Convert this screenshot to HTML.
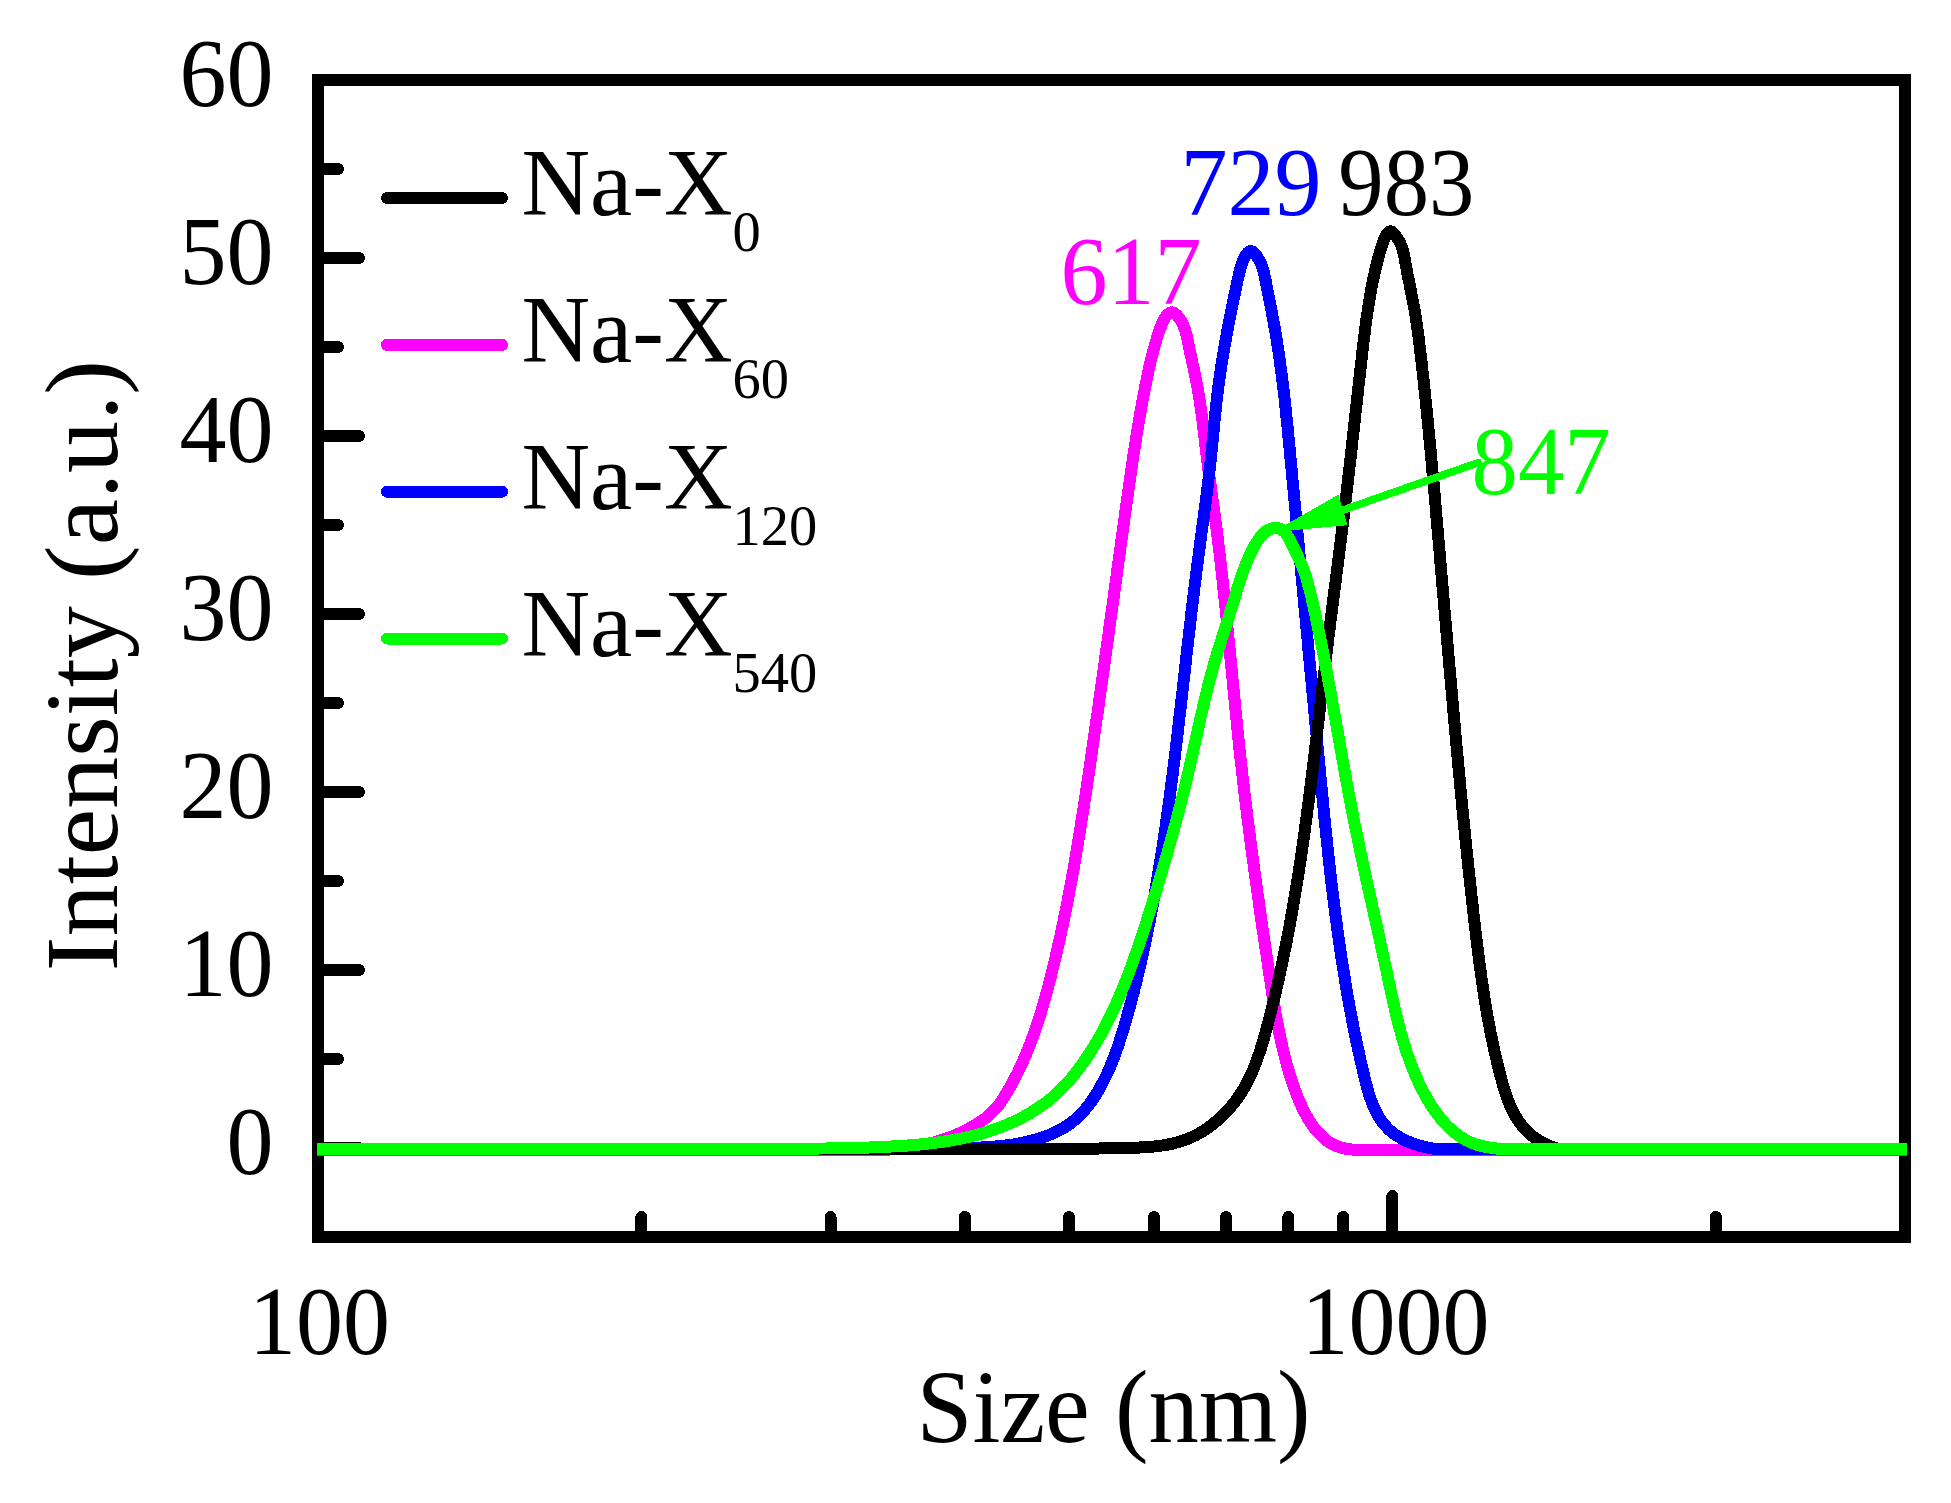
<!DOCTYPE html>
<html lang="en"><head><meta charset="utf-8"><title>Size distribution</title>
<style>html,body{margin:0;padding:0;background:#fff}svg{display:block}text{font-family:"Liberation Serif",serif;fill:#000}</style></head><body>
<svg width="1951" height="1503" viewBox="0 0 1951 1503" shape-rendering="crispEdges">
<rect width="1951" height="1503" fill="#fff"/>
<g stroke="#000" stroke-width="12" stroke-linecap="round" fill="none">
<path d="M318 1148.0h41"/>
<path d="M318 1059.0h20"/>
<path d="M318 970.0h41"/>
<path d="M318 881.0h20"/>
<path d="M318 792.0h41"/>
<path d="M318 703.0h20"/>
<path d="M318 614.0h41"/>
<path d="M318 525.0h20"/>
<path d="M318 436.0h41"/>
<path d="M318 347.0h20"/>
<path d="M318 258.0h41"/>
<path d="M318 169.0h20"/>
<path d="M641.4 1237v-20"/>
<path d="M830.6 1237v-20"/>
<path d="M964.8 1237v-20"/>
<path d="M1069.0 1237v-20"/>
<path d="M1154.0 1237v-20"/>
<path d="M1226.0 1237v-20"/>
<path d="M1288.3 1237v-20"/>
<path d="M1343.2 1237v-20"/>
<path d="M1392.4 1237v-41"/>
<path d="M1715.8 1237v-20"/>
</g>
<rect x="318" y="80" width="1587" height="1157" fill="none" stroke="#000" stroke-width="12" shape-rendering="crispEdges"/>
<g fill="none" stroke-width="12" stroke-linejoin="round" stroke-linecap="butt">
<path stroke="#ff00ff" d="M317 1150L859.9 1149.8L866.3 1150L872.6 1150L878.9 1150L885.2 1149.8L891.5 1149.4L897.7 1148.9L904 1148.2L910.1 1147.4L916.3 1146.4L922.4 1145.2L928.5 1143.8L934.5 1142.2L940.5 1140.5L946.4 1138.5L952.3 1136.3L958.1 1133.9L963.8 1131.2L969.4 1128.3L975 1125.2L980.3 1121.8L985.5 1118.1L990.3 1114.1L994.8 1109.7L998.8 1104.9L1002.4 1099.8L1005.7 1094.5L1008.9 1089.1L1012 1083.6L1014.9 1078.1L1017.7 1072.6L1020.4 1066.9L1023 1061.2L1025.5 1055.5L1027.8 1049.7L1030.1 1043.9L1032.3 1038.1L1034.5 1032.2L1036.5 1026.2L1038.4 1020.3L1040.3 1014.3L1042.2 1008.3L1043.9 1002.2L1045.6 996.2L1047.3 990.1L1048.9 984L1050.5 977.9L1052 971.8L1053.5 965.7L1055 959.6L1056.4 953.5L1057.8 947.3L1059.2 941.2L1060.6 935.1L1061.9 929L1063.2 922.8L1064.4 916.7L1065.7 910.5L1066.9 904.4L1068.1 898.2L1069.3 892.1L1070.4 885.9L1071.6 879.7L1072.7 873.6L1073.8 867.4L1074.9 861.2L1075.9 855L1077 848.9L1078 842.7L1079 836.5L1080 830.3L1081 824.1L1082 817.9L1083 811.7L1083.9 805.5L1084.9 799.3L1085.8 793.2L1086.7 787L1087.7 780.8L1088.6 774.6L1089.5 768.4L1090.4 762.1L1091.3 755.9L1092.2 749.7L1093.1 743.5L1094 737.3L1094.9 731.1L1095.8 724.9L1096.7 718.7L1097.6 712.5L1098.5 706.3L1099.3 700.1L1100.2 693.9L1101.1 687.6L1102 681.4L1102.8 675.2L1103.7 669L1104.6 662.8L1105.4 656.6L1106.3 650.4L1107.2 644.1L1108 637.9L1108.9 631.7L1109.7 625.5L1110.6 619.3L1111.4 613.1L1112.3 606.8L1113.2 600.6L1114 594.4L1114.9 588.2L1115.7 582L1116.6 575.8L1117.4 569.5L1118.3 563.3L1119.1 557.1L1120 550.9L1120.8 544.7L1121.7 538.5L1122.6 532.2L1123.4 526L1124.3 519.8L1125.1 513.6L1126 507.4L1126.9 501.2L1127.7 494.9L1128.6 488.7L1129.5 482.5L1130.4 476.3L1131.3 470.1L1132.2 463.9L1133.1 457.7L1134 451.5L1135 445.3L1136 439.1L1137 432.9L1138 426.7L1139 420.5L1140.1 414.4L1141.2 408.2L1142.3 402L1143.4 395.8L1144.6 389.7L1145.8 383.5L1147.1 377.4L1148.4 371.3L1149.7 365.1L1151.2 359L1152.7 353L1154.4 346.9L1156.1 340.9L1157.2 337.2L1157.5 336.3L1157.8 335.3L1158 334.9L1158.2 334.4L1158.5 333.4L1158.8 332.5L1159.1 331.5L1159.4 330.6L1159.8 329.6L1160 328.9L1160.1 328.7L1160.4 327.7L1160.8 326.8L1161.1 325.8L1161.5 324.9L1161.8 323.9L1162.2 323L1162.2 323L1162.6 322.1L1163 321.2L1163.5 320.3L1164 319.4L1164.5 318.5L1165.1 317.6L1165.2 317.4L1165.7 316.8L1166.4 316L1167.1 315.2L1167.9 314.4L1168.7 313.7L1169.5 313.2L1169.9 312.9L1170.3 312.7L1171.2 312.4L1172 312.4L1172.9 312.5L1173.7 312.8L1174.5 313.2L1175.1 313.7L1175.3 313.8L1176.1 314.5L1176.8 315.2L1177.5 316L1178.2 316.9L1178.8 317.7L1179.4 318.5L1179.5 318.6L1180 319.4L1180.6 320.2L1181.1 321.1L1181.6 322L1182.1 322.9L1182.6 323.8L1182.7 324.1L1183 324.7L1183.4 325.6L1183.8 326.5L1184.1 327.4L1184.5 328.4L1184.8 329.3L1185 329.9L1185.1 330.3L1185.4 331.2L1185.7 332.2L1186 333.1L1186.3 334.1L1186.5 335.1L1186.7 335.9L1186.7 336L1187 337L1188.1 342.1L1189.3 348.3L1190.6 354.4L1191.9 360.6L1193.3 366.7L1194.6 372.8L1195.8 378.9L1197 385.1L1198.2 391.2L1199.2 397.4L1200.1 403.6L1201 409.8L1201.9 416L1202.7 422.2L1203.4 428.5L1204.2 434.7L1204.9 441L1205.6 447.2L1206.4 453.4L1207.1 459.7L1207.9 465.9L1208.7 472.1L1209.6 478.3L1210.5 484.5L1211.3 490.7L1212.2 497L1213.1 503.2L1213.9 509.4L1214.8 515.6L1215.6 521.8L1216.4 528L1217.2 534.2L1218 540.5L1218.7 546.7L1219.5 552.9L1220.2 559.1L1220.9 565.4L1221.6 571.6L1222.3 577.8L1223 584.1L1223.6 590.3L1224.3 596.6L1225 602.8L1225.6 609L1226.2 615.3L1226.9 621.5L1227.5 627.8L1228.1 634L1228.7 640.3L1229.3 646.5L1229.9 652.8L1230.6 659L1231.2 665.2L1231.8 671.5L1232.4 677.7L1233 684L1233.6 690.2L1234.2 696.5L1234.8 702.7L1235.4 709L1236 715.2L1236.7 721.4L1237.3 727.7L1237.9 733.9L1238.6 740.2L1239.2 746.4L1239.9 752.6L1240.6 758.9L1241.3 765.1L1242 771.3L1242.7 777.6L1243.4 783.8L1244.1 790L1244.9 796.2L1245.6 802.4L1246.4 808.7L1247.1 814.9L1247.9 821.1L1248.7 827.3L1249.5 833.5L1250.3 839.7L1251.1 846L1251.9 852.2L1252.8 858.4L1253.6 864.6L1254.4 870.8L1255.3 877L1256.2 883.2L1257 889.4L1257.9 895.6L1258.8 901.8L1259.6 908.1L1260.5 914.3L1261.4 920.5L1262.3 926.7L1263.2 932.9L1264.1 939.1L1265.1 945.3L1266 951.5L1266.9 957.7L1267.8 964L1268.7 970.2L1269.7 976.4L1270.6 982.6L1271.6 988.8L1272.5 995L1273.5 1001.3L1274.6 1007.5L1275.6 1013.6L1276.7 1019.8L1277.9 1026L1279.1 1032.1L1280.4 1038.3L1281.8 1044.4L1283.2 1050.5L1284.7 1056.5L1286.3 1062.6L1288 1068.6L1289.8 1074.6L1291.7 1080.5L1293.7 1086.5L1295.9 1092.3L1298.1 1098.2L1300.6 1104L1303.2 1109.7L1306.1 1115.2L1309.2 1120.6L1312.7 1125.9L1316.6 1130.8L1321 1135.5L1325.7 1139.8L1330.9 1143.4L1336.5 1146.1L1342.4 1148L1348.6 1149.2L1354.9 1149.8L1361.3 1150L1367.7 1150L1373.9 1150L1380 1150L1907 1150.0"/>
<path stroke="#0000ff" d="M317 1149L940 1149L946.6 1148.8L953.2 1148.6L959.8 1148.4L966.5 1148.2L973.3 1147.9L980.1 1147.6L986.8 1147.2L993.6 1146.7L1000.4 1146.1L1007.1 1145.3L1013.8 1144.4L1020.5 1143.2L1027 1141.8L1033.5 1140.2L1039.9 1138.3L1046.2 1136.1L1052.4 1133.6L1058.4 1130.7L1064.2 1127.5L1069.7 1123.9L1075 1119.8L1079.9 1115.3L1084.5 1110.3L1088.8 1105L1092.8 1099.4L1096.5 1093.7L1099.9 1087.8L1103.1 1081.9L1106.1 1075.9L1108.9 1069.8L1111.5 1063.6L1114 1057.4L1116.3 1051.1L1118.5 1044.8L1120.5 1038.4L1122.5 1032L1124.5 1025.6L1126.3 1019.2L1128.1 1012.7L1129.9 1006.3L1131.7 999.8L1133.4 993.3L1135 986.8L1136.7 980.3L1138.2 973.8L1139.8 967.3L1141.3 960.7L1142.8 954.2L1144.2 947.6L1145.6 941L1147 934.5L1148.3 927.9L1149.7 921.3L1150.9 914.7L1152.2 908.1L1153.4 901.5L1154.6 894.9L1155.8 888.2L1156.9 881.6L1158 875L1159.1 868.4L1160.2 861.7L1161.3 855.1L1162.3 848.5L1163.3 841.8L1164.3 835.2L1165.3 828.5L1166.2 821.9L1167.2 815.2L1168.1 808.6L1169 801.9L1169.9 795.3L1170.8 788.6L1171.6 782L1172.5 775.3L1173.3 768.6L1174.2 762L1175 755.3L1175.8 748.6L1176.6 742L1177.4 735.3L1178.2 728.6L1178.9 722L1179.7 715.3L1180.5 708.6L1181.2 702L1182 695.3L1182.8 688.6L1183.5 682L1184.3 675.3L1185 668.6L1185.8 661.9L1186.5 655.3L1187.3 648.6L1188.1 641.9L1188.8 635.3L1189.6 628.6L1190.4 621.9L1191.1 615.3L1191.9 608.6L1192.7 601.9L1193.5 595.3L1194.3 588.6L1195.2 582L1196 575.3L1196.8 568.6L1197.7 562L1198.6 555.3L1199.5 548.7L1200.3 542L1201.2 535.4L1202.1 528.7L1203 522.1L1203.9 515.4L1204.8 508.8L1205.7 502.1L1206.5 495.5L1207.3 488.8L1208.2 482.1L1208.9 475.5L1209.7 468.8L1210.5 462.1L1211.2 455.5L1211.8 448.8L1212.5 442.1L1213.2 435.4L1213.8 428.7L1214.4 422L1215.1 415.3L1215.8 408.7L1216.5 402L1217.3 395.3L1218.1 388.6L1219 382L1219.9 375.3L1220.9 368.7L1221.9 362.1L1223 355.4L1224.1 348.8L1225.3 342.2L1226.5 335.6L1227.7 329L1229 322.4L1230.3 315.8L1231.6 309.2L1232.9 302.7L1234.3 296.1L1235.7 289.5L1237 282.9L1238.3 277.2L1238.5 276.3L1238.5 276.2L1238.7 275.2L1239 274.2L1239.2 273.3L1239.4 272.3L1239.7 271.3L1239.9 270.4L1240 269.8L1240.2 269.4L1240.4 268.5L1240.7 267.5L1240.9 266.5L1241.2 265.6L1241.5 264.7L1241.8 263.7L1241.8 263.5L1242.1 262.8L1242.4 261.8L1242.7 260.9L1243.1 260L1243.5 259.1L1244 258.1L1244.5 257.2L1244.5 257.2L1245 256.3L1245.6 255.4L1246.3 254.5L1247 253.6L1247.7 252.8L1248.5 252.1L1249.1 251.7L1249.3 251.6L1250.1 251.2L1251 251.1L1251.8 251.3L1252.6 251.6L1253.4 252.2L1254.2 252.9L1254.5 253.2L1254.9 253.7L1255.6 254.6L1256.3 255.5L1256.9 256.4L1257.5 257.3L1258.1 258.2L1258.6 259.1L1258.7 259.2L1259.1 260L1259.6 260.9L1260 261.7L1260.5 262.6L1260.9 263.5L1261.2 264.4L1261.5 265.1L1261.6 265.3L1261.9 266.2L1262.2 267.1L1262.5 268L1262.8 269L1263.1 269.9L1263.4 270.9L1263.5 271.4L1263.7 271.8L1263.9 272.8L1264.2 273.7L1264.4 274.7L1264.6 275.7L1264.8 276.7L1265.1 277.9L1266.4 284.6L1267.7 291.3L1269 297.9L1270.3 304.5L1271.6 311.1L1272.8 317.6L1274 324.2L1275.2 330.8L1276.3 337.4L1277.3 344L1278.4 350.6L1279.3 357.2L1280.2 363.8L1281.1 370.5L1282 377.1L1282.8 383.8L1283.6 390.4L1284.4 397.1L1285.1 403.8L1285.8 410.5L1286.5 417.1L1287.2 423.8L1287.9 430.5L1288.5 437.2L1289.2 443.9L1289.8 450.6L1290.4 457.3L1291.1 464L1291.7 470.7L1292.3 477.4L1292.9 484.1L1293.6 490.8L1294.2 497.5L1294.8 504.1L1295.5 510.8L1296.1 517.5L1296.7 524.2L1297.3 530.9L1298 537.6L1298.6 544.3L1299.2 551L1299.9 557.7L1300.5 564.4L1301.1 571.1L1301.7 577.8L1302.4 584.5L1303 591.1L1303.6 597.8L1304.2 604.5L1304.9 611.2L1305.5 617.9L1306.1 624.6L1306.7 631.3L1307.4 638L1308 644.7L1308.6 651.3L1309.2 658L1309.9 664.7L1310.5 671.4L1311.1 678.1L1311.8 684.8L1312.4 691.5L1313 698.1L1313.7 704.8L1314.3 711.5L1314.9 718.2L1315.5 724.9L1316.2 731.6L1316.8 738.2L1317.4 744.9L1318.1 751.6L1318.7 758.3L1319.4 765L1320 771.6L1320.6 778.3L1321.3 785L1321.9 791.7L1322.6 798.3L1323.2 805L1323.9 811.7L1324.5 818.4L1325.2 825L1325.9 831.7L1326.6 838.4L1327.3 845L1328 851.7L1328.7 858.4L1329.5 865L1330.2 871.7L1331 878.4L1331.7 885L1332.5 891.7L1333.3 898.3L1334.2 905L1335 911.7L1335.9 918.3L1336.8 925L1337.7 931.6L1338.6 938.3L1339.5 944.9L1340.5 951.6L1341.5 958.2L1342.5 964.8L1343.6 971.5L1344.7 978.1L1345.8 984.8L1346.9 991.4L1348 998L1349.2 1004.7L1350.5 1011.3L1351.7 1017.9L1353 1024.5L1354.3 1031.2L1355.7 1037.8L1357 1044.4L1358.5 1051L1359.9 1057.6L1361.4 1064.2L1363 1070.8L1364.5 1077.4L1366.2 1084L1367.9 1090.5L1369.9 1096.9L1372.1 1103.1L1374.7 1109.1L1377.6 1114.9L1381 1120.3L1384.9 1125.3L1389.3 1129.9L1394.5 1134.1L1400.2 1137.7L1406.4 1140.9L1413 1143.5L1419.8 1145.7L1426.8 1147.4L1433.8 1148.7L1440.8 1149L1447.5 1149L1453.9 1149L1459.8 1148.8L1907 1149.0"/>
<path stroke="#000000" d="M317 1149L1090 1149L1096.6 1148.6L1103.2 1148.3L1110 1148.1L1116.8 1148L1123.7 1147.9L1130.6 1147.8L1137.5 1147.6L1144.4 1147.3L1151.2 1146.8L1158 1146.1L1164.8 1145.1L1171.4 1143.9L1177.9 1142.2L1184.3 1140.2L1190.5 1137.7L1196.6 1134.8L1202.5 1131.5L1208.2 1127.7L1213.6 1123.6L1218.8 1119.2L1223.8 1114.5L1228.5 1109.5L1233 1104.3L1237.1 1098.8L1240.9 1093.2L1244.4 1087.4L1247.6 1081.5L1250.6 1075.5L1253.3 1069.3L1255.8 1063.1L1258.1 1056.7L1260.3 1050.3L1262.3 1043.8L1264.2 1037.3L1266 1030.7L1267.8 1024.1L1269.5 1017.5L1271.2 1010.9L1272.8 1004.3L1274.4 997.7L1276 991.1L1277.5 984.4L1279 977.8L1280.4 971.2L1281.9 964.5L1283.3 957.9L1284.6 951.2L1286 944.6L1287.3 937.9L1288.5 931.3L1289.8 924.6L1291 917.9L1292.2 911.2L1293.4 904.6L1294.5 897.9L1295.6 891.2L1296.7 884.5L1297.8 877.8L1298.8 871.1L1299.9 864.4L1300.9 857.7L1301.9 851L1302.8 844.3L1303.8 837.6L1304.7 830.8L1305.6 824.1L1306.5 817.4L1307.4 810.7L1308.3 804L1309.2 797.2L1310 790.5L1310.9 783.8L1311.7 777L1312.5 770.3L1313.4 763.6L1314.2 756.8L1315 750.1L1315.8 743.3L1316.6 736.6L1317.4 729.9L1318.2 723.1L1319 716.4L1319.8 709.6L1320.6 702.9L1321.4 696.1L1322.2 689.4L1323 682.7L1323.8 675.9L1324.6 669.2L1325.4 662.4L1326.2 655.7L1327.1 648.9L1327.9 642.2L1328.7 635.5L1329.6 628.7L1330.4 622L1331.3 615.3L1332.2 608.5L1333 601.8L1333.9 595L1334.7 588.3L1335.6 581.6L1336.4 574.8L1337.3 568.1L1338.2 561.4L1339 554.6L1339.8 547.9L1340.7 541.2L1341.5 534.4L1342.4 527.7L1343.2 521L1344 514.2L1344.8 507.5L1345.6 500.8L1346.4 494.1L1347.2 487.3L1348 480.6L1348.7 473.9L1349.5 467.1L1350.3 460.4L1351 453.7L1351.8 447L1352.5 440.2L1353.3 433.5L1354 426.7L1354.8 420L1355.5 413.3L1356.3 406.5L1357 399.8L1357.8 393L1358.5 386.3L1359.3 379.5L1360 372.8L1360.8 366L1361.6 359.3L1362.3 352.5L1363.1 345.7L1363.9 339L1364.8 332.2L1365.6 325.4L1366.5 318.7L1367.5 312L1368.5 305.2L1369.6 298.5L1370.8 291.8L1372 285.2L1373.4 278.5L1374.8 271.9L1376.4 265.3L1378.1 258.8L1378.3 257.7L1378.6 256.8L1378.9 255.8L1379.1 254.8L1379.4 253.9L1379.7 252.9L1379.9 252.2L1379.9 252L1380.2 251L1380.5 250L1380.8 249.1L1381.1 248.1L1381.4 247.2L1381.7 246.2L1381.8 245.7L1382 245.3L1382.3 244.3L1382.6 243.4L1382.9 242.4L1383.2 241.5L1383.6 240.5L1384 239.6L1384.1 239.3L1384.4 238.6L1384.8 237.7L1385.3 236.8L1385.9 235.8L1386.4 234.9L1387.1 234L1387.7 233.1L1387.8 233.1L1388.4 232.4L1389.1 231.8L1389.9 231.4L1390.6 231.3L1391.4 231.4L1392.1 231.8L1392.8 232.3L1392.9 232.4L1393.6 233.2L1394.3 234L1395 234.9L1395.7 235.9L1396.3 236.8L1396.9 237.7L1397.3 238.2L1397.5 238.5L1398.1 239.4L1398.6 240.3L1399.1 241.1L1399.6 242L1400 242.9L1400.4 243.7L1400.6 244.1L1400.8 244.6L1401.2 245.5L1401.6 246.4L1401.9 247.3L1402.2 248.2L1402.5 249.2L1402.8 250.1L1402.9 250.3L1403.1 251.1L1403.3 252L1403.5 253L1403.8 254L1404 254.9L1404.2 255.9L1404.4 256.9L1404.4 256.9L1405.6 263.7L1406.8 270.5L1408.1 277.2L1409.5 283.8L1410.8 290.5L1412.1 297.1L1413.4 303.7L1414.6 310.3L1415.7 317L1416.7 323.7L1417.7 330.4L1418.6 337.1L1419.4 343.9L1420.2 350.6L1421 357.3L1421.8 364.1L1422.5 370.8L1423.3 377.6L1424 384.3L1424.7 391.1L1425.4 397.8L1426.1 404.6L1426.8 411.3L1427.5 418.1L1428.1 424.9L1428.8 431.6L1429.4 438.4L1430.1 445.1L1430.7 451.9L1431.3 458.6L1431.9 465.4L1432.5 472.2L1433.2 478.9L1433.8 485.7L1434.4 492.5L1435 499.2L1435.6 506L1436.1 512.7L1436.7 519.5L1437.3 526.3L1437.9 533L1438.5 539.8L1439.1 546.5L1439.7 553.3L1440.2 560.1L1440.8 566.8L1441.4 573.6L1442 580.3L1442.6 587.1L1443.2 593.9L1443.7 600.6L1444.3 607.4L1444.9 614.1L1445.5 620.9L1446.1 627.7L1446.7 634.4L1447.2 641.2L1447.8 647.9L1448.4 654.7L1449 661.5L1449.6 668.2L1450.2 675L1450.8 681.8L1451.4 688.5L1452 695.3L1452.6 702L1453.2 708.8L1453.8 715.6L1454.4 722.3L1455 729.1L1455.6 735.9L1456.2 742.6L1456.8 749.4L1457.5 756.2L1458.1 762.9L1458.7 769.7L1459.4 776.4L1460 783.2L1460.6 790L1461.3 796.7L1461.9 803.5L1462.6 810.2L1463.3 817L1463.9 823.7L1464.6 830.5L1465.3 837.2L1466 844L1466.7 850.7L1467.4 857.5L1468.1 864.2L1468.8 871L1469.5 877.7L1470.3 884.5L1471 891.2L1471.7 897.9L1472.5 904.7L1473.2 911.4L1474 918.1L1474.8 924.9L1475.6 931.6L1476.4 938.3L1477.2 945L1478 951.7L1478.9 958.5L1479.8 965.2L1480.7 971.9L1481.6 978.6L1482.6 985.3L1483.6 992L1484.6 998.7L1485.7 1005.4L1486.8 1012.1L1488 1018.8L1489.3 1025.5L1490.5 1032.2L1491.9 1038.8L1493.3 1045.5L1494.7 1052.2L1496.3 1058.9L1497.9 1065.5L1499.5 1072.2L1501.3 1078.9L1503.1 1085.5L1505.1 1092.1L1507.3 1098.5L1509.8 1104.8L1512.6 1110.9L1515.8 1116.7L1519.4 1122.2L1523.4 1127.4L1528 1132.3L1533.2 1136.6L1538.8 1140.5L1544.9 1143.9L1551.3 1146.6L1557.9 1148.7L1564.6 1149L1571.5 1149L1578.3 1149L1585 1148.8L1907 1149.0"/>
<path stroke="#00ff00" d="M317 1149L760 1149L765.5 1149L770.9 1148.9L776.4 1148.8L781.9 1148.8L787.4 1148.8L792.8 1148.7L798.3 1148.7L803.8 1148.6L809.2 1148.6L814.7 1148.6L820.1 1148.5L825.6 1148.5L831.1 1148.4L836.5 1148.3L842 1148.2L847.4 1148.1L852.9 1148L858.3 1147.9L863.8 1147.7L869.3 1147.5L874.7 1147.3L880.2 1147.1L885.6 1146.8L891.1 1146.5L896.6 1146.2L902 1145.9L907.5 1145.5L913 1145L918.4 1144.6L923.9 1144L929.3 1143.4L934.8 1142.8L940.2 1142.1L945.6 1141.3L951 1140.4L956.4 1139.4L961.7 1138.4L967 1137.2L972.4 1136L977.6 1134.7L982.9 1133.2L988.1 1131.6L993.3 1129.9L998.4 1128.1L1003.5 1126.1L1008.5 1124L1013.5 1121.8L1018.5 1119.4L1023.3 1116.9L1028.1 1114.2L1032.8 1111.4L1037.4 1108.5L1041.9 1105.4L1046.3 1102.2L1050.6 1098.8L1054.7 1095.2L1058.7 1091.5L1062.6 1087.7L1066.3 1083.7L1070 1079.7L1073.5 1075.5L1076.9 1071.2L1080.2 1066.8L1083.4 1062.4L1086.5 1057.8L1089.5 1053.3L1092.5 1048.7L1095.3 1044L1098.1 1039.3L1100.8 1034.6L1103.4 1029.8L1105.9 1025L1108.4 1020.1L1110.8 1015.2L1113.1 1010.3L1115.4 1005.4L1117.6 1000.4L1119.8 995.4L1121.9 990.3L1124 985.3L1126 980.2L1128 975.1L1129.9 970L1131.8 964.9L1133.7 959.7L1135.5 954.5L1137.3 949.4L1139 944.2L1140.8 939L1142.5 933.8L1144.2 928.6L1145.9 923.4L1147.6 918.1L1149.2 912.9L1150.9 907.7L1152.5 902.5L1154.1 897.3L1155.8 892L1157.4 886.8L1158.9 881.6L1160.5 876.3L1162.1 871.1L1163.6 865.8L1165.1 860.6L1166.7 855.4L1168.1 850.1L1169.6 844.8L1171.1 839.6L1172.6 834.3L1174 829.1L1175.4 823.8L1176.8 818.5L1178.2 813.2L1179.6 807.9L1180.9 802.7L1182.3 797.4L1183.6 792.1L1184.9 786.8L1186.2 781.5L1187.4 776.1L1188.7 770.8L1189.9 765.5L1191.1 760.2L1192.3 754.8L1193.5 749.5L1194.7 744.1L1195.9 738.8L1197.1 733.5L1198.3 728.1L1199.4 722.8L1200.6 717.4L1201.9 712.1L1203.1 706.8L1204.3 701.5L1205.6 696.1L1206.9 690.8L1208.2 685.5L1209.6 680.2L1211 675L1212.4 669.7L1213.9 664.4L1215.5 659.2L1217 654L1218.6 648.7L1220.3 643.5L1221.9 638.3L1223.6 633.1L1225.2 627.9L1226.9 622.7L1228.6 617.5L1230.2 612.3L1231.9 607.1L1233.5 601.8L1235 596.6L1236.6 591.3L1238.2 586.1L1239.9 580.9L1241.6 575.7L1243.4 570.6L1245.3 565.5L1247.4 560.4L1249.6 555.4L1252 550.5L1253.8 547.1L1254.3 546.2L1254.6 545.7L1254.8 545.3L1255.3 544.4L1255.8 543.6L1256.4 542.7L1256.9 541.8L1257.4 541L1257.5 540.9L1258 540.1L1258.5 539.3L1259.1 538.5L1259.7 537.6L1260.3 536.8L1260.7 536.4L1261 536L1261.6 535.3L1262.3 534.5L1263 533.8L1263.8 533.1L1264.5 532.5L1264.5 532.5L1265.3 531.8L1266.2 531.2L1267 530.7L1267.9 530.1L1268.9 529.7L1269.3 529.5L1269.8 529.2L1270.7 528.9L1271.7 528.6L1272.7 528.3L1273.7 528.1L1274.5 528L1274.6 528L1275.6 528L1276.6 528.1L1277.5 528.2L1278.5 528.4L1279.4 528.7L1279.8 528.8L1280.3 529.1L1281.2 529.5L1282.1 530L1282.9 530.5L1283.6 531.2L1284.3 531.7L1284.4 531.8L1285.1 532.5L1285.7 533.3L1286.3 534.1L1286.9 534.9L1287.4 535.8L1287.6 536L1288 536.6L1288.5 537.6L1288.9 538.5L1289.4 539.4L1289.9 540.4L1290.2 541.1L1290.3 541.3L1290.7 542.3L1291.2 543.2L1291.6 544.1L1292.1 545.1L1292.5 546L1292.6 546.2L1293 546.9L1293.5 547.8L1293.9 548.7L1294.4 549.6L1295.1 551.1L1297.6 555.9L1299.9 560.8L1302 565.7L1303.9 570.7L1305.7 575.9L1307.3 581.1L1308.7 586.4L1310.1 591.7L1311.4 597.1L1312.6 602.5L1313.8 607.9L1315 613.3L1316.2 618.7L1317.3 624L1318.4 629.4L1319.6 634.8L1320.6 640.2L1321.7 645.6L1322.8 651L1323.8 656.3L1324.9 661.7L1325.9 667.1L1326.9 672.5L1327.9 677.8L1328.9 683.2L1329.9 688.6L1330.9 694L1331.8 699.3L1332.8 704.7L1333.8 710.1L1334.7 715.4L1335.7 720.8L1336.6 726.2L1337.6 731.5L1338.5 736.9L1339.5 742.2L1340.4 747.6L1341.4 753L1342.3 758.3L1343.3 763.7L1344.3 769L1345.2 774.4L1346.2 779.7L1347.2 785.1L1348.2 790.5L1349.2 795.8L1350.2 801.2L1351.2 806.5L1352.3 811.9L1353.3 817.2L1354.4 822.6L1355.5 827.9L1356.6 833.2L1357.7 838.6L1358.8 843.9L1359.9 849.3L1361 854.6L1362.2 860L1363.3 865.3L1364.5 870.7L1365.7 876L1366.8 881.4L1368 886.7L1369.2 892.1L1370.4 897.4L1371.6 902.8L1372.7 908.1L1373.9 913.4L1375.1 918.8L1376.3 924.1L1377.5 929.5L1378.7 934.8L1379.9 940.2L1381 945.6L1382.2 950.9L1383.4 956.3L1384.5 961.6L1385.7 967L1386.9 972.3L1388 977.7L1389.1 983.1L1390.3 988.4L1391.4 993.8L1392.6 999.1L1393.8 1004.4L1395 1009.8L1396.3 1015.1L1397.6 1020.4L1398.9 1025.7L1400.3 1030.9L1401.8 1036.2L1403.3 1041.4L1404.9 1046.6L1406.5 1051.8L1408.3 1056.9L1410.1 1062L1412.1 1067.1L1414.1 1072.1L1416.3 1077.1L1418.5 1082.1L1420.9 1087L1423.4 1091.9L1426.1 1096.8L1428.8 1101.6L1431.8 1106.3L1434.9 1110.8L1438.1 1115.3L1441.5 1119.6L1445.2 1123.7L1449 1127.5L1453 1131.1L1457.2 1134.5L1461.6 1137.5L1466.3 1140.2L1471.1 1142.5L1476.3 1144.5L1481.6 1146L1487.2 1147.2L1492.8 1148.1L1498.5 1148.7L1504.1 1149L1509.6 1149L1514.9 1149L1520 1149L1907 1149.0"/>
</g>
<text transform="translate(273.5 1174.0) scale(1 1.04)" font-size="94" text-anchor="end">0</text>
<text transform="translate(273.5 996.0) scale(1 1.04)" font-size="94" text-anchor="end">10</text>
<text transform="translate(273.5 818.0) scale(1 1.04)" font-size="94" text-anchor="end">20</text>
<text transform="translate(273.5 640.0) scale(1 1.04)" font-size="94" text-anchor="end">30</text>
<text transform="translate(273.5 462.0) scale(1 1.04)" font-size="94" text-anchor="end">40</text>
<text transform="translate(273.5 284.0) scale(1 1.04)" font-size="94" text-anchor="end">50</text>
<text transform="translate(273.5 106.0) scale(1 1.04)" font-size="94" text-anchor="end">60</text>
<text transform="translate(319.5 1353.7) scale(1 1.04)" font-size="94" text-anchor="middle">100</text>
<text transform="translate(1395.4 1353.7) scale(1 1.04)" font-size="94" text-anchor="middle">1000</text>
<text transform="translate(1113.5 1441.8) scale(0.987 1.02)" font-size="102" text-anchor="middle">Size (nm)</text>
<text transform="translate(117.0 665.6) rotate(-90)" font-size="104.3" text-anchor="middle">Intensity (a.u.)</text>
<path d="M387 198.0H502" stroke="#000000" stroke-width="12" stroke-linecap="round" fill="none"/>
<text transform="translate(521.5 215.1)" font-size="95">Na-X<tspan font-size="56.5" dy="36">0</tspan></text>
<path d="M387 344.9H502" stroke="#ff00ff" stroke-width="12" stroke-linecap="round" fill="none"/>
<text transform="translate(521.5 361.9)" font-size="95">Na-X<tspan font-size="56.5" dy="36">60</tspan></text>
<path d="M387 491.7H502" stroke="#0000ff" stroke-width="12" stroke-linecap="round" fill="none"/>
<text transform="translate(521.5 508.8)" font-size="95">Na-X<tspan font-size="56.5" dy="36">120</tspan></text>
<path d="M387 638.5H502" stroke="#00ff00" stroke-width="12" stroke-linecap="round" fill="none"/>
<text transform="translate(521.5 655.6)" font-size="95">Na-X<tspan font-size="56.5" dy="36">540</tspan></text>
<text transform="translate(1060.5 303.6) scale(1 1.04)" font-size="94" style="fill:#ff00ff">617</text>
<text transform="translate(1180.5 214.5) scale(1 1.04)" font-size="94" style="fill:#0000ff">729</text>
<text transform="translate(1338.3 214.5) scale(0.965 1.04)" font-size="94">983</text>
<text transform="translate(1471.5 493.7) scale(0.988 1.04)" font-size="94" style="fill:#00ff00">847</text>
<path d="M1478.4 462.6L1343 510.1" stroke="#00ff00" stroke-width="7.6" stroke-linecap="round" fill="none"/>
<path d="M1273 532L1338.3 494.7L1347.5 525.2Z" fill="#00ff00"/>
</svg></body></html>
